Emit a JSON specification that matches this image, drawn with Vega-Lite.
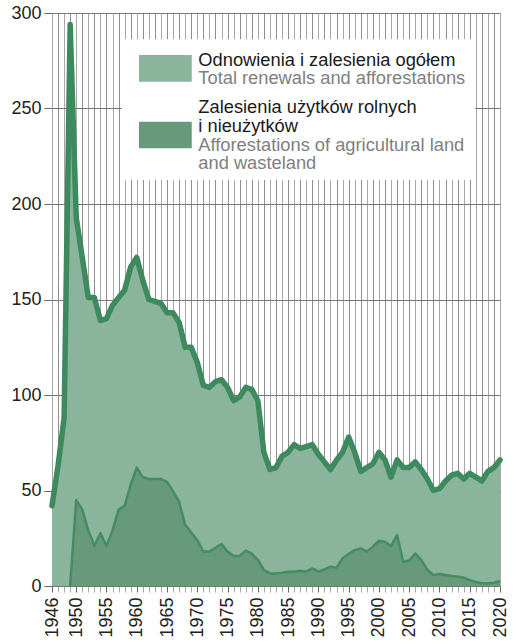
{
  "$schema": "https://vega.github.io/schema/vega-lite/v6.json",
  "width": 448,
  "height": 573,
  "autosize": {"type": "none"},
  "padding": {"left": 52, "top": 13, "right": 14, "bottom": 56},
  "background": "white",
  "config": {
    "font": "Liberation Sans",
    "view": {"stroke": null},
    "axisX": {
      "grid": true, "gridWidth": 1, "zindex": 0,
      "gridColor": {"condition": {"test": "datum.value % 2 === 1", "value": "#8e8e8e"}, "value": "#a8a8a8"},
      "tickCount": 74, "format": "d",
      "labelExpr": "datum.value === 1946 || datum.value % 5 === 0 ? datum.label : ''",
      "labelAngle": 270, "labelAlign": "right", "labelBaseline": "middle",
      "labelFontSize": 18, "labelColor": "#222", "labelPadding": 5,
      "labelOverlap": false, "labelFlush": false, "labelBound": false,
      "tickSize": 6,
      "tickColor": {"condition": {"test": "datum.value % 5 === 0 || datum.value === 1946", "value": "#666"}, "value": "#aaa"},
      "domainColor": "#777", "domainWidth": 1
    },
    "axisY": {
      "tickCount": 6, "grid": true, "gridColor": "#7a7a7a", "gridWidth": 1,
      "domain": false, "tickSize": 8, "tickColor": "#666", "labelFontSize": 18, "labelColor": "#222",
      "labelPadding": 3, "zindex": 0
    }
  },
  "datasets": {
    "series": [
      {"year": 1946, "total": 42, "agri": null},
      {"year": 1947, "total": 63, "agri": null},
      {"year": 1948, "total": 88, "agri": null},
      {"year": 1949, "total": 294, "agri": 0},
      {"year": 1950, "total": 193, "agri": 45},
      {"year": 1951, "total": 172, "agri": 40},
      {"year": 1952, "total": 151, "agri": 29},
      {"year": 1953, "total": 151, "agri": 21},
      {"year": 1954, "total": 139, "agri": 27.6},
      {"year": 1955, "total": 140, "agri": 21},
      {"year": 1956, "total": 147, "agri": 29},
      {"year": 1957, "total": 151, "agri": 40},
      {"year": 1958, "total": 155, "agri": 42},
      {"year": 1959, "total": 167, "agri": 53},
      {"year": 1960, "total": 172, "agri": 62},
      {"year": 1961, "total": 160, "agri": 57},
      {"year": 1962, "total": 150, "agri": 56},
      {"year": 1963, "total": 149, "agri": 56},
      {"year": 1964, "total": 148, "agri": 56},
      {"year": 1965, "total": 143, "agri": 54.5},
      {"year": 1966, "total": 143, "agri": 49.5},
      {"year": 1967, "total": 138, "agri": 44},
      {"year": 1968, "total": 125, "agri": 32},
      {"year": 1969, "total": 125, "agri": 28},
      {"year": 1970, "total": 117, "agri": 24},
      {"year": 1971, "total": 105, "agri": 18},
      {"year": 1972, "total": 104, "agri": 18},
      {"year": 1973, "total": 107, "agri": 20},
      {"year": 1974, "total": 108, "agri": 22},
      {"year": 1975, "total": 104, "agri": 18},
      {"year": 1976, "total": 97, "agri": 15.7},
      {"year": 1977, "total": 99, "agri": 15.7},
      {"year": 1978, "total": 104, "agri": 18.5},
      {"year": 1979, "total": 103, "agri": 17},
      {"year": 1980, "total": 97, "agri": 13.6},
      {"year": 1981, "total": 70, "agri": 8.4},
      {"year": 1982, "total": 61, "agri": 6.6},
      {"year": 1983, "total": 62, "agri": 6.6},
      {"year": 1984, "total": 68, "agri": 7},
      {"year": 1985, "total": 70, "agri": 7.5},
      {"year": 1986, "total": 74, "agri": 7.5},
      {"year": 1987, "total": 72, "agri": 8},
      {"year": 1988, "total": 73, "agri": 7.5},
      {"year": 1989, "total": 74, "agri": 9.2},
      {"year": 1990, "total": 69, "agri": 7.5},
      {"year": 1991, "total": 65, "agri": 8.7},
      {"year": 1992, "total": 61, "agri": 10.1},
      {"year": 1993, "total": 66, "agri": 9.6},
      {"year": 1994, "total": 70, "agri": 14.5},
      {"year": 1995, "total": 78, "agri": 16.8},
      {"year": 1996, "total": 70, "agri": 18.8},
      {"year": 1997, "total": 60, "agri": 19.7},
      {"year": 1998, "total": 62, "agri": 18},
      {"year": 1999, "total": 64, "agri": 20.6},
      {"year": 2000, "total": 70, "agri": 23.7},
      {"year": 2001, "total": 66, "agri": 23.2},
      {"year": 2002, "total": 57, "agri": 20.9},
      {"year": 2003, "total": 66, "agri": 26.7},
      {"year": 2004, "total": 62, "agri": 12.7},
      {"year": 2005, "total": 62, "agri": 13.3},
      {"year": 2006, "total": 65, "agri": 17},
      {"year": 2007, "total": 61, "agri": 13.6},
      {"year": 2008, "total": 56, "agri": 8.4},
      {"year": 2009, "total": 50, "agri": 5.8},
      {"year": 2010, "total": 51, "agri": 6.3},
      {"year": 2011, "total": 55, "agri": 5.8},
      {"year": 2012, "total": 58, "agri": 5.2},
      {"year": 2013, "total": 59, "agri": 4.9},
      {"year": 2014, "total": 56, "agri": 4.4},
      {"year": 2015, "total": 59, "agri": 3.1},
      {"year": 2016, "total": 57, "agri": 2.1},
      {"year": 2017, "total": 55, "agri": 1.4},
      {"year": 2018, "total": 60, "agri": 1.4},
      {"year": 2019, "total": 62, "agri": 1.7},
      {"year": 2020, "total": 66, "agri": 2.6}
    ]
  },
  "data": {"name": "series"},
  "layer": [
    {
      "mark": {"type": "area", "color": "#8ab49b"},
      "encoding": {
        "x": {
          "field": "year", "type": "quantitative", "title": null,
          "scale": {"domain": [1946, 2020], "nice": false, "zero": false}
        },
        "y": {
          "field": "total", "type": "quantitative", "title": null,
          "scale": {"domain": [0, 300], "nice": false}
        }
      }
    },
    {
      "mark": {"type": "area", "color": "#679a7b"},
      "encoding": {
        "x": {"field": "year", "type": "quantitative", "title": null},
        "y": {"field": "agri", "type": "quantitative", "title": null}
      }
    },
    {
      "mark": {"type": "line", "color": "#3d8a5f", "strokeWidth": 5.5, "strokeJoin": "round", "strokeCap": "round"},
      "encoding": {
        "x": {"field": "year", "type": "quantitative", "title": null},
        "y": {"field": "total", "type": "quantitative", "title": null}
      }
    },
    {
      "mark": {"type": "line", "color": "#458c63", "strokeWidth": 2.5, "strokeJoin": "round"},
      "encoding": {
        "x": {"field": "year", "type": "quantitative", "title": null},
        "y": {"field": "agri", "type": "quantitative", "title": null}
      }
    },
    {
      "data": {"values": [{}]},
      "mark": {"type": "rect", "fill": "white"},
      "encoding": {
        "x": {"datum": 1957.5, "title": null}, "x2": {"datum": 2015.9},
        "y": {"datum": 286.2, "title": null}, "y2": {"datum": 212.6}
      }
    },
    {
      "data": {"values": [{}]},
      "mark": {"type": "rect", "fill": "#8ab49b"},
      "encoding": {
        "x": {"datum": 1960.37, "title": null}, "x2": {"datum": 1969.08},
        "y": {"datum": 278.0, "title": null}, "y2": {"datum": 264.0}
      }
    },
    {
      "data": {"values": [{}]},
      "mark": {"type": "rect", "fill": "#679a7b"},
      "encoding": {
        "x": {"datum": 1960.37, "title": null}, "x2": {"datum": 1969.08},
        "y": {"datum": 243.1, "title": null}, "y2": {"datum": 229.2}
      }
    },
    {
      "data": {"values": [{}]},
      "mark": {"type": "text", "text": "Odnowienia i zalesienia ogółem", "align": "left", "baseline": "alphabetic", "fontSize": 18.3, "color": "#1a1a1a"},
      "encoding": {
        "x": {"datum": 1970.17, "title": null},
        "y": {"datum": 272.25, "title": null}
      }
    },
    {
      "data": {"values": [{}]},
      "mark": {"type": "text", "text": "Total renewals and afforestations", "align": "left", "baseline": "alphabetic", "fontSize": 18.3, "color": "#808080"},
      "encoding": {
        "x": {"datum": 1970.17, "title": null},
        "y": {"datum": 262.67, "title": null}
      }
    },
    {
      "data": {"values": [{}]},
      "mark": {"type": "text", "text": ["Zalesienia użytków rolnych", "i nieużytków"], "lineHeight": 19, "align": "left", "baseline": "alphabetic", "fontSize": 18.3, "color": "#1a1a1a"},
      "encoding": {
        "x": {"datum": 1970.17, "title": null},
        "y": {"datum": 247.8, "title": null}
      }
    },
    {
      "data": {"values": [{}]},
      "mark": {"type": "text", "text": ["Afforestations of agricultural land", "and wasteland"], "lineHeight": 18.5, "align": "left", "baseline": "alphabetic", "fontSize": 18.3, "color": "#808080"},
      "encoding": {
        "x": {"datum": 1970.17, "title": null},
        "y": {"datum": 227.75, "title": null}
      }
    }
  ]
}
